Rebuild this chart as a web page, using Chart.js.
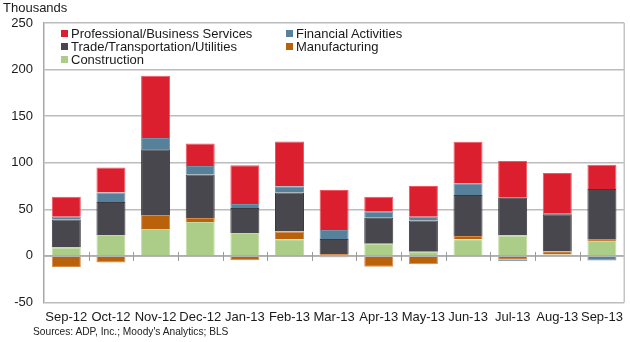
<!DOCTYPE html>
<html>
<head>
<meta charset="utf-8">
<script src="https://cdn.jsdelivr.net/npm/chart.js@4/dist/chart.umd.min.js"></script>
<style>
  body { margin: 0; background: #fff; }
  #wrap { position: relative; width: 630px; height: 342px; font-family: Arial, "Liberation Sans", sans-serif; color: #1a1a1a; }
  #unit { position: absolute; left: 3px; top: 0px; font-size: 13px; }
  #src { position: absolute; left: 33px; top: 326px; font-size: 10.2px; color: #222; }
  .lg { position: absolute; font-size: 13px; line-height: 13px; white-space: nowrap; }
  .lg i { display: inline-block; width: 7px; height: 7px; margin-right: 3px; vertical-align: 1px; }
</style>
</head>
<body>
<div id="wrap">
  <canvas id="c" width="630" height="342"></canvas>
  <div id="unit">Thousands</div>
  <div id="src">Sources: ADP, Inc.; Moody's Analytics; BLS</div>
  <div id="legend"></div>
</div>
<script>
// Données (milliers d'emplois)
const mois = ['Sep-12', 'Oct-12', 'Nov-12', 'Dec-12', 'Jan-13', 'Feb-13', 'Mar-13', 'Apr-13', 'May-13', 'Jun-13', 'Jul-13', 'Aug-13', 'Sep-13'];
const construction = [9, 22.5, 29, 36.5, 24.5, 18, -1.8, 13, 4.5, 18, 22, 1.5, 16];
const manufacturing = [-12, -7, 15, 4.3, -4.6, 8.2, 2.1, -11.5, -9, 3.5, -4.2, 3.6, 1.4];
const trade = [30, 35.5, 70.5, 46.5, 27, 42, 16, 28, 33.5, 44, 40.3, 39.5, 54.5];
const financial = [3, 10, 12, 9.3, 4.3, 6.5, 9.7, 6.5, 4, 12.5, -1.2, 1.5, -5];
const professional = [21.5, 27, 67, 24, 41.5, 48, 43, 16, 33, 44.5, 39.7, 43, 26];
const yTicks = [-50, 0, 50, 100, 150, 200, 250];

const series = [
  { label: 'Construction', data: construction, color: '#abcd88', border: '#c2dca6' },
  { label: 'Manufacturing', data: manufacturing, color: '#ba620b', border: '#d88a4a' },
  { label: 'Trade/Transportation/Utilities', data: trade, color: '#47474d', border: '#3a3a40' },
  { label: 'Financial Activities', data: financial, color: '#57819a', border: '#6f95ac' },
  { label: 'Professional/Business Services', data: professional, color: '#dc1f2e', border: '#f05560' }
];

// Légende en HTML (deux colonnes comme l'original)
const legendPos = [
  { name: 'Professional/Business Services', x: 61, y: 27 },
  { name: 'Financial Activities', x: 286, y: 27 },
  { name: 'Trade/Transportation/Utilities', x: 61, y: 40 },
  { name: 'Manufacturing', x: 286, y: 40 },
  { name: 'Construction', x: 61, y: 53 }
];
const legend = document.getElementById('legend');
legendPos.forEach(p => {
  const s = series.find(d => d.label === p.name);
  const el = document.createElement('div');
  el.className = 'lg';
  el.style.left = p.x + 'px';
  el.style.top = p.y + 'px';
  el.innerHTML = '<i style="background:' + s.color + '"></i>' + p.name;
  legend.appendChild(el);
});

// Cadre et petites graduations sur la ligne zéro
const decor = {
  id: 'decor',
  afterDatasetsDraw(chart) {
    const { ctx, chartArea, scales } = chart;
    const y0 = scales.y.getPixelForValue(0);
    ctx.save();
    ctx.strokeStyle = '#a8a8a8';
    ctx.lineWidth = 1.5;
    ctx.beginPath();
    ctx.moveTo(chartArea.left, y0);
    ctx.lineTo(chartArea.right, y0);
    ctx.stroke();
    ctx.lineWidth = 1;
    ctx.strokeStyle = '#9a9a9a';
    const step = (chartArea.right - chartArea.left) / mois.length;
    for (let i = 1; i < mois.length; i++) {
      const x = Math.round(chartArea.left + i * step) + 0.5;
      ctx.beginPath();
      ctx.moveTo(x, y0 - 4);
      ctx.lineTo(x, y0 + 5);
      ctx.stroke();
    }
    ctx.strokeStyle = '#c4c4c4';
    ctx.lineWidth = 1.5;
    ctx.beginPath();
    ctx.moveTo(chartArea.right, chartArea.top);
    ctx.lineTo(chartArea.right, chartArea.bottom);
    ctx.stroke();
    ctx.restore();
  }
};

new Chart(document.getElementById('c'), {
  type: 'bar',
  data: {
    labels: mois,
    datasets: series.map(s => ({
      label: s.label,
      data: s.data,
      backgroundColor: s.color,
      borderColor: s.border,
      borderWidth: 1,
      barPercentage: 0.65,
      categoryPercentage: 1
    }))
  },
  options: {
    responsive: false,
    animation: false,
    layout: { padding: { top: 23, right: 3, left: 0, bottom: 0 } },
    plugins: { legend: { display: false }, tooltip: { enabled: false } },
    scales: {
      x: {
        stacked: true,
        grid: { display: false, drawTicks: false },
        border: { display: false },
        ticks: { color: '#1a1a1a', font: { family: 'Arial, "Liberation Sans"', size: 13 }, padding: 7, maxRotation: 0, autoSkip: false },
        afterFit(scale) { scale.height = 39.5; }
      },
      y: {
        stacked: true,
        min: -50,
        max: 250,
        afterBuildTicks(scale) { scale.ticks = yTicks.map(v => ({ value: v })); },
        grid: { color: '#bcbcbc', lineWidth: 1.5, drawTicks: false },
        border: { display: true, color: '#a8a8a8', width: 1.5 },
        ticks: { color: '#1a1a1a', font: { family: 'Arial, "Liberation Sans"', size: 13 }, padding: 11 },
        afterFit(scale) { scale.width = 44; }
      }
    }
  },
  plugins: [decor]
});
</script>
</body>
</html>
